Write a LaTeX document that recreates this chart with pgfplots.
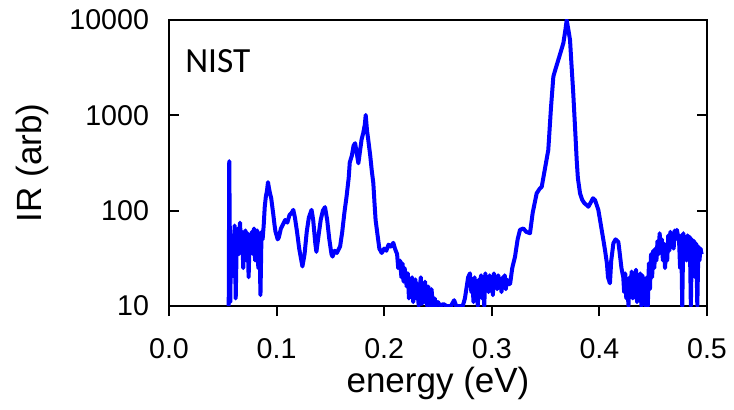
\documentclass[border=0pt]{standalone}
\usepackage{pgfplots}
\pgfplotsset{compat=1.18}
\usepackage{fontspec}
\setmainfont{Liberation Sans}
\newfontfamily\nistfont{Carlito}
\begin{document}
\begin{tikzpicture}
\useasboundingbox (-84.5pt,-51.5pt) rectangle (282.5pt,153pt);
\begin{axis}[
  at={(0,0)}, anchor=south west,
  scale only axis, width=269pt, height=143pt,
  xmin=0, xmax=0.5, ymode=log, ymin=10, ymax=10000,
  xtick={0,0.1,0.2,0.3,0.4,0.5},
  xticklabels={0.0,0.1,0.2,0.3,0.4,0.5},
  ytick={10,100,1000,10000},
  yticklabels={10,100,1000,10000},
  yminorticks=false,
  xtick pos=bottom, ytick pos=both,
  tick align=inside,
  major tick length=5pt,
  xtick style={yshift=-5pt, line width=1pt, black},
  ytick style={line width=1pt, black},
  axis line style={line width=1.2pt},
  /pgf/number format/assume math mode=true,
  ticklabel style={font=\fontsize{14.3}{16}\selectfont},
  xticklabel style={yshift=-12.5pt},
  yticklabel style={xshift=-6.5pt},
  label style={font=\fontsize{17.5}{20}\selectfont},
  xlabel={energy (eV)},
  ylabel={IR (arb)},
  xlabel style={at={(axis description cs:0.5,-0.27)}, anchor=center},
  ylabel style={at={(axis description cs:-0.2535,0.5)}, anchor=center, rotate=0},
]
\addplot[blue, line width=2pt, line join=round] coordinates {
(0.0555,10) (0.0560,330) (0.0565,60) (0.0570,11) (0.0575,45) (0.058,20) (0.059,55) (0.060,30)
(0.061,70) (0.062,12) (0.063,50) (0.064,65) (0.065,35) (0.066,75) (0.067,40) (0.068,60)
(0.069,25) (0.070,55) (0.071,62) (0.072,30) (0.073,58) (0.074,20) (0.075,55) (0.076,45)
(0.077,60) (0.078,35) (0.079,65) (0.080,30) (0.081,50) (0.082,62) (0.083,25) (0.084,55)
(0.085,13) (0.086,60) (0.087,50) (0.088,70) (0.089,110) (0.090,140) (0.091,160) (0.092,199)
(0.093,170) (0.094,150) (0.095,135) (0.096,110) (0.097,90) (0.098,72) (0.099,60) (0.100,55)
(0.101,50) (0.102,52) (0.104,65) (0.106,72) (0.108,80) (0.110,75) (0.112,90) (0.114,95)
(0.1155,102) (0.117,85) (0.119,60) (0.121,40) (0.123,30) (0.124,26) (0.126,35) (0.128,60)
(0.130,85) (0.1325,102) (0.134,80) (0.136,45) (0.137,37) (0.139,55) (0.141,80) (0.143,100)
(0.145,109) (0.147,80) (0.149,50) (0.151,35) (0.152,33) (0.154,38) (0.156,36) (0.158,40)
(0.159,42) (0.161,60) (0.163,95) (0.165,140) (0.167,220) (0.168,320) (0.170,380) (0.1715,480)
(0.173,510) (0.1745,400) (0.176,314) (0.1775,420) (0.179,560) (0.1805,650) (0.182,800) (0.1828,1009)
(0.184,700) (0.1852,552) (0.187,380) (0.1885,260) (0.1899,194) (0.191,120) (0.192,80) (0.1936,58)
(0.1955,40) (0.1977,36) (0.200,40) (0.202,38) (0.204,44) (0.206,42) (0.2085,46) (0.210,40)
(0.212,35) (0.213,25) (0.2147,30) (0.216,20) (0.217,28) (0.218,18) (0.219,25) (0.2209,16)
(0.222,22) (0.223,12) (0.224,18) (0.225,14) (0.226,20) (0.227,11) (0.228,16) (0.229,19)
(0.230,12) (0.231,17) (0.232,10) (0.233,15) (0.234,20) (0.235,10.5) (0.236,14) (0.237,11)
(0.238,18) (0.239,12) (0.240,10) (0.241,16) (0.242,13) (0.243,10) (0.244,15) (0.245,11)
(0.246,10) (0.247,12) (0.248,10) (0.250,11) (0.252,10) (0.255,10.5) (0.258,10) (0.262,10)
(0.265,11.5) (0.267,10) (0.270,10) (0.273,10) (0.275,12) (0.2767,16) (0.278,20) (0.2797,22)
(0.281,14) (0.282,18) (0.283,11) (0.284,20) (0.285,13) (0.286,16) (0.287,10) (0.288,19)
(0.289,14) (0.290,21) (0.291,12) (0.292,18) (0.293,10) (0.294,22) (0.295,15) (0.296,20)
(0.297,14) (0.298,21) (0.299,16) (0.300,19) (0.301,13) (0.302,22) (0.303,16) (0.304,20)
(0.305,15) (0.306,21) (0.307,17) (0.308,19) (0.309,14) (0.310,20) (0.311,16) (0.312,21)
(0.313,15) (0.314,19) (0.315,17) (0.317,17) (0.319,25) (0.3216,33) (0.324,50) (0.3262,63)
(0.3293,65) (0.332,60) (0.3355,58) (0.338,95) (0.3417,152) (0.3445,170) (0.3464,178) (0.349,260)
(0.3525,433) (0.355,1200) (0.3572,2548) (0.359,3000) (0.3618,3810) (0.364,4600) (0.3665,5710) (0.3685,8000)
(0.3696,10000) (0.3715,7500) (0.3727,6170) (0.374,3500) (0.3757,1706) (0.3775,700) (0.3789,340) (0.380,220)
(0.382,152) (0.384,130) (0.386,120) (0.388,115) (0.3897,110) (0.392,122) (0.394,135) (0.396,129)
(0.399,102) (0.401,75) (0.403,55) (0.4052,38.7) (0.407,28) (0.408,20) (0.4098,17.3) (0.411,30)
(0.413,45.5) (0.415,50) (0.4176,47) (0.419,35) (0.4205,25) (0.4222,20) (0.423,14) (0.424,22)
(0.425,12) (0.426,18) (0.427,10) (0.428,20) (0.429,15) (0.430,23) (0.431,12) (0.432,19)
(0.433,16) (0.434,24) (0.435,11) (0.436,20) (0.437,14) (0.438,22) (0.439,10) (0.440,21)
(0.441,13) (0.442,18) (0.443,10) (0.444,20) (0.445,10) (0.446,28) (0.447,15) (0.448,35)
(0.449,20) (0.450,38) (0.451,25) (0.452,40) (0.453,30) (0.454,48) (0.455,35) (0.456,58)
(0.457,40) (0.458,50) (0.459,30) (0.460,45) (0.461,25) (0.462,40) (0.463,30) (0.464,55)
(0.465,38) (0.466,60) (0.467,45) (0.468,55) (0.469,40) (0.470,62) (0.471,50) (0.472,63)
(0.473,55) (0.474,50) (0.475,25) (0.476,55) (0.477,10) (0.478,58) (0.479,40) (0.480,52)
(0.481,30) (0.482,55) (0.483,45) (0.484,53) (0.485,10) (0.486,50) (0.487,35) (0.488,48)
(0.489,20) (0.490,45) (0.491,10) (0.492,42) (0.493,30) (0.494,40) (0.495,35)
};
\node[anchor=base west, inner sep=0pt, font=\nistfont\fontsize{17.7}{20}\selectfont]
  at (axis description cs:0.0297,0.818) {NIST};
\end{axis}
\end{tikzpicture}
\end{document}
